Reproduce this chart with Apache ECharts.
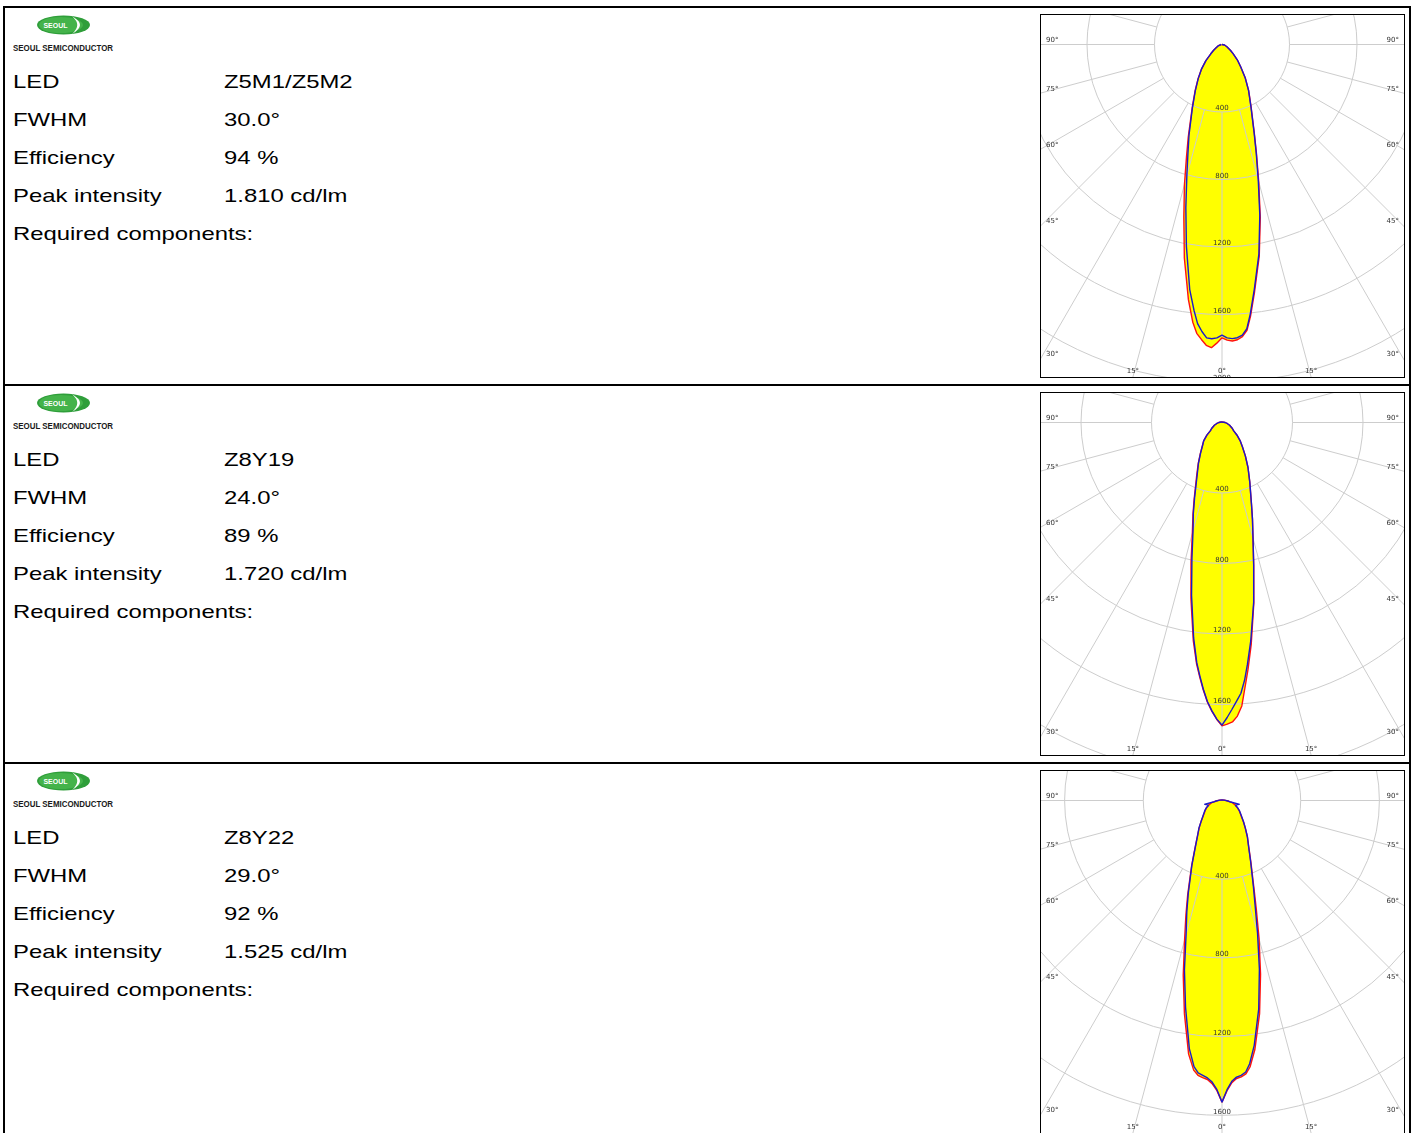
<!DOCTYPE html>
<html>
<head>
<meta charset="utf-8">
<script src="https://cdn.jsdelivr.net/npm/echarts@6/dist/echarts.min.js"></script>
<style>
html,body{margin:0;padding:0;width:1415px;height:1133px;overflow:hidden;background:#fff;}
body{position:relative;font-family:'Liberation Sans',Arial,Helvetica,sans-serif;color:#000;}
#frame{position:absolute;left:3px;top:6px;width:1404px;height:1140px;border:2px solid #000;}
.sep{position:absolute;left:3px;width:1408px;height:2px;background:#000;}
.txt{position:absolute;font-size:18.5px;line-height:18.5px;white-space:nowrap;transform:scaleX(1.29);transform-origin:0 0;}
.brand{position:absolute;font-size:9px;line-height:9px;font-weight:bold;white-space:nowrap;transform:scaleX(0.88);transform-origin:0 0;color:#1a1a1a;}
.logo{position:absolute;}
.box{position:absolute;left:1040px;width:363px;height:362px;border:1px solid #000;background:#fff;}
.chart{position:absolute;left:0;top:0;width:363px;height:362px;}
</style>
</head>
<body>
<div id="frame"></div>
<div class="sep" style="top:384px"></div>
<div class="sep" style="top:762px"></div>
<script>
// ---------------- data ----------------
const rowLabels = ['LED', 'FWHM', 'Efficiency', 'Peak intensity', 'Required components:'];
const ledNames = ['Z5M1/Z5M2', 'Z8Y19', 'Z8Y22'];
const fwhmValues = ['30.0°', '24.0°', '29.0°'];
const efficiencyValues = ['94 %', '89 %', '92 %'];
const peakValues = ['1.810 cd/lm', '1.720 cd/lm', '1.525 cd/lm'];

const brandName = 'SEOUL SEMICONDUCTOR';
const logoWord = 'SEOUL';

// polar angle (deg from nadir) for each side, intensities in cd/klm
const sideGamma = [0,1,2,3,4,5,6,7.5,10,12.5,15,17.5,20,25,30,35,40,45,50,55,60,65,70,75,77.5,80,85,90,100,120,150,180];

const p1RedLeft   = [1738,1770,1798,1785,1752,1718,1655,1525,1285,1045,860,700,585,420,320,247,188,135,88,62,42,32,25,18,15,12,8,4,0,0,0,0];
const p1RedRight  = [1738,1752,1758,1752,1735,1700,1618,1478,1272,1048,840,680,560,408,316,240,172,128,87,62,42,32,25,18,15,12,8,4,0,0,0,0];
const p1BlueLeft  = [1722,1739,1745,1741,1705,1660,1585,1465,1215,990,805,670,572,415,316,245,188,135,88,62,42,32,25,18,15,12,8,4,0,0,0,0];
const p1BlueRight = [1722,1739,1744,1740,1727,1690,1605,1465,1260,1035,830,675,557,405,315,238,172,128,87,62,42,32,25,18,15,12,8,4,0,0,0,0];

const p2RedLeft   = [1717,1685,1640,1588,1522,1450,1378,1248,1015,812,650,548,462,342,270,214,174,147,112,80,68,56,46,36,32,28,22,18,10,5,3,3];
const p2RedRight  = [1721,1712,1700,1668,1612,1505,1410,1270,1040,832,680,575,488,373,295,231,180,145,110,80,68,56,46,36,32,28,22,18,10,5,3,3];
const p2BlueLeft  = [1717,1683,1637,1585,1517,1443,1370,1233,995,788,635,541,455,335,267,212,172,147,112,80,68,56,46,36,32,28,22,18,10,5,3,3];
const p2BlueRight = [1717,1674,1628,1583,1540,1468,1380,1250,1035,830,680,575,488,373,295,231,180,145,110,80,68,56,46,36,32,28,22,18,10,5,3,3];

const p3RedLeft   = [1533,1475,1440,1420,1412,1402,1378,1300,1100,910,735,610,510,365,272,216,180,150,126,110,98,86,74,64,56,42,30,20,12,5,3,3];
const p3RedRight  = [1533,1475,1435,1415,1408,1395,1362,1278,1100,905,728,580,475,348,272,225,185,155,130,113,100,86,74,64,56,42,30,20,12,5,3,3];
const p3BlueLeft  = [1533,1470,1432,1412,1400,1390,1360,1272,1067,882,705,595,501,362,270,216,182,150,128,112,100,88,72,82,92,45,30,20,12,6,4,3];
const p3BlueRight = [1533,1470,1428,1408,1400,1385,1345,1255,1075,878,698,560,467,345,270,225,185,155,132,115,102,88,72,82,92,45,30,20,12,6,4,3];

const radiusTicks = [0, 400, 800, 1200, 1600, 2000, 2400];
const angleLabelLeftRight = [90, 75, 60, 45, 30];
const angleLabelBottom = [15, 0, -15];

// ---------------- layout ----------------
const PANEL_H = 378;
const panels = [
  {red: [p1RedLeft, p1RedRight], blue: [p1BlueLeft, p1BlueRight], scale: 67.5 / 400},
  {red: [p2RedLeft, p2RedRight], blue: [p2BlueLeft, p2BlueRight], scale: 70.5 / 400},
  {red: [p3RedLeft, p3RedRight], blue: [p3BlueLeft, p3BlueRight], scale: 78.7 / 400}
];

function buildCurve(left, right) {
  const pts = [];
  for (let i = sideGamma.length - 1; i >= 0; i--) pts.push([right[i], 360 - sideGamma[i]]);
  for (let i = 1; i < sideGamma.length; i++) pts.push([left[i], sideGamma[i]]);
  return pts;
}

function addText(cls, text, left, top) {
  const d = document.createElement('div');
  d.className = cls;
  d.textContent = text;
  d.style.left = left + 'px';
  d.style.top = top + 'px';
  document.body.appendChild(d);
  return d;
}

function addLogo(top) {
  const ns = 'http://www.w3.org/2000/svg';
  const svg = document.createElementNS(ns, 'svg');
  svg.setAttribute('width', '58');
  svg.setAttribute('height', '22');
  svg.setAttribute('class', 'logo');
  svg.style.left = '35px';
  svg.style.top = top + 'px';
  svg.innerHTML =
    '<ellipse cx="28.5" cy="11" rx="26.5" ry="9.5" fill="#2f9e3a"/>' +
    '<ellipse cx="26" cy="11" rx="22" ry="8" fill="#44b34a"/>' +
    '<path d="M37 2.2 Q53 11 37 19.8 Q47.5 11 37 2.2 Z" fill="#ffffff"/>' +
    '<text x="20.5" y="13.6" font-family="Liberation Sans, Arial" font-size="7" font-weight="bold" fill="#ffffff" text-anchor="middle">' + logoWord + '</text>';
  document.body.appendChild(svg);
}

const W = 363, H = 362, CX = 181, CY = 29.5;
const GRID = '#cdcdcd';
const LABEL_FONT = {fontSize: 7, fontFamily: 'DejaVu Sans', fill: '#333'};

panels.forEach((p, i) => {
  const T = PANEL_H * i;
  addLogo(T + 14);
  addText('brand', brandName, 13, T + 44);
  const vals = [ledNames[i], fwhmValues[i], efficiencyValues[i], peakValues[i]];
  rowLabels.forEach((lab, r) => {
    const base = T + 89 + 38 * r;
    addText('txt', lab, 13, base - 15.66);
    if (r < vals.length) addText('txt', vals[r], 224, base - 15.66);
  });

  const box = document.createElement('div');
  box.className = 'box';
  box.style.top = (T + 14) + 'px';
  const el = document.createElement('div');
  el.className = 'chart';
  box.appendChild(el);
  document.body.appendChild(box);

  const rMax = radiusTicks[radiusTicks.length - 1];
  const R = rMax * p.scale;
  const r0 = radiusTicks[1] * p.scale;

  const red = buildCurve(p.red[0], p.red[1]);
  const blue = buildCurve(p.blue[0], p.blue[1]);

  // angle labels where spokes meet the frame
  const graphics = [];
  angleLabelLeftRight.forEach(g => {
    const rad = g * Math.PI / 180;
    const yEdge = g === 90 ? CY : CY + CX / Math.tan(rad);
    graphics.push({type: 'text', x: 5, y: yEdge - 0.5, z: 20,
      style: Object.assign({text: g + '°', align: 'left', verticalAlign: 'bottom'}, LABEL_FONT)});
    graphics.push({type: 'text', x: W - 5, y: yEdge - 0.5, z: 20,
      style: Object.assign({text: g + '°', align: 'right', verticalAlign: 'bottom'}, LABEL_FONT)});
  });
  angleLabelBottom.forEach(g => {
    const rad = g * Math.PI / 180;
    const xEdge = CX - (H - CY) * Math.tan(rad);
    graphics.push({type: 'text', x: xEdge, y: H - 2.5, z: 20,
      style: Object.assign({text: Math.abs(g) + '°', align: 'center', verticalAlign: 'bottom'}, LABEL_FONT)});
  });

  const chart = echarts.init(el, null, {renderer: 'canvas', width: W, height: H});
  chart.setOption({
    animation: false,
    backgroundColor: '#fff',
    polar: [
      {center: [CX, CY], radius: [0, R]},
      {center: [CX, CY], radius: [r0, R * 1.2]}
    ],
    angleAxis: [
      {polarIndex: 0, type: 'value', min: 0, max: 360, startAngle: 270, clockwise: true,
        axisLine: {show: false}, axisTick: {show: false}, axisLabel: {show: false}, splitLine: {show: false}},
      {polarIndex: 1, type: 'value', min: 0, max: 360, interval: 15, startAngle: 270, clockwise: true, z: 2,
        axisLine: {show: false}, axisTick: {show: false}, axisLabel: {show: false},
        splitLine: {show: true, lineStyle: {color: GRID, width: 1}}}
    ],
    radiusAxis: [
      {polarIndex: 0, type: 'value', min: 0, max: rMax, interval: radiusTicks[1], z: 2,
        axisLine: {show: false}, axisTick: {show: false},
        axisLabel: {show: true, margin: 0, align: 'center', verticalAlign: 'bottom',
          fontSize: 7, fontFamily: 'DejaVu Sans', color: '#333',
          formatter: v => (v === 0 ? '' : String(v))},
        splitLine: {show: true, lineStyle: {color: GRID, width: 1}}},
      {polarIndex: 1, type: 'value', min: 0, max: 1, show: false}
    ],
    graphic: graphics,
    series: [
      {type: 'line', coordinateSystem: 'polar', polarIndex: 0, data: red, symbol: 'none', silent: true, z: 1,
        lineStyle: {width: 0, opacity: 0}, areaStyle: {color: '#ffff00', opacity: 1}},
      {type: 'line', coordinateSystem: 'polar', polarIndex: 0, data: blue, symbol: 'none', silent: true, z: 1,
        lineStyle: {width: 0, opacity: 0}, areaStyle: {color: '#ffff00', opacity: 1}},
      {type: 'line', coordinateSystem: 'polar', polarIndex: 0, data: red, symbol: 'none', silent: true, z: 3,
        lineStyle: {width: 1.4, color: '#ff1010'}},
      {type: 'line', coordinateSystem: 'polar', polarIndex: 0, data: blue, symbol: 'none', silent: true, z: 4,
        lineStyle: {width: 1.4, color: '#1a1acc'}}
    ]
  });
});
</script>
</body>
</html>
